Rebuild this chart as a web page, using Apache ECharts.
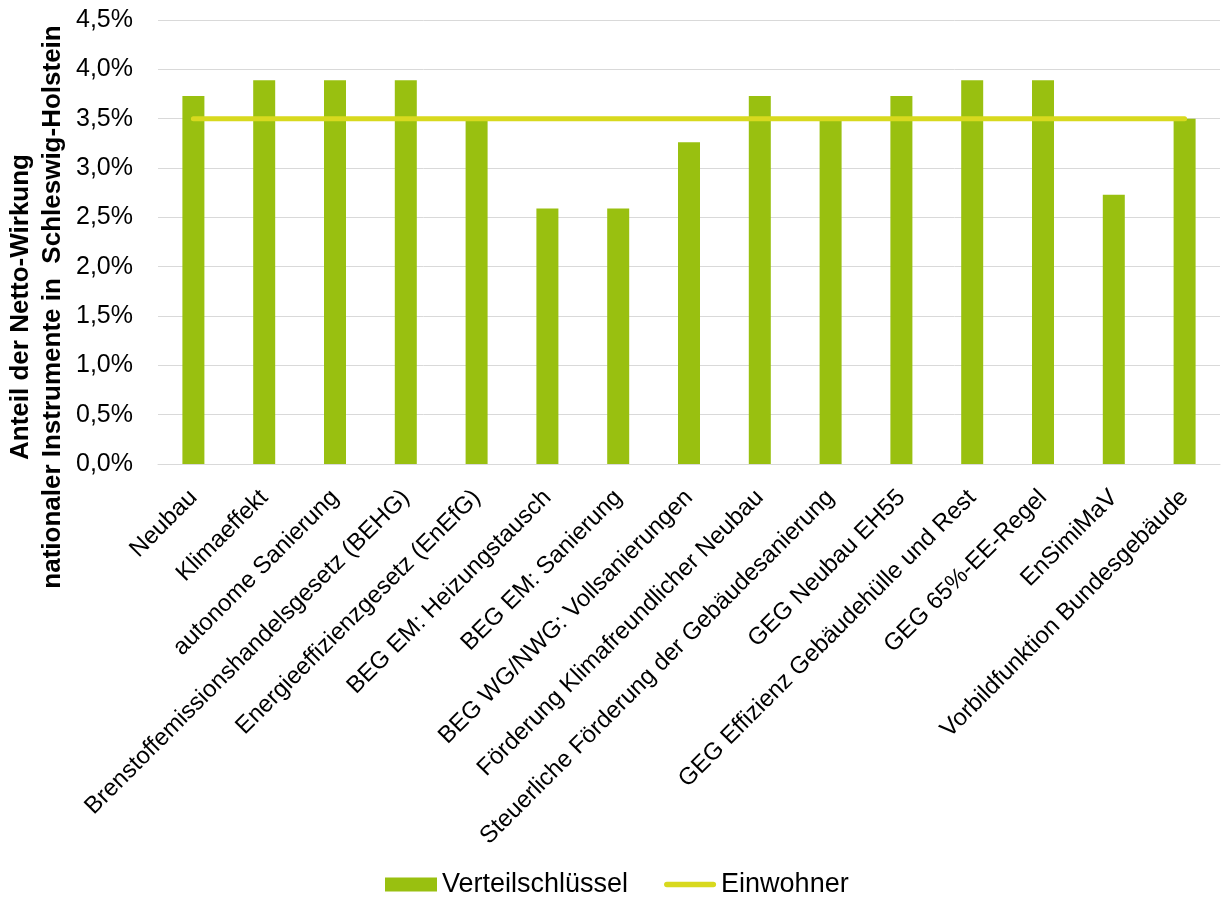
<!DOCTYPE html>
<html>
<head>
<meta charset="utf-8">
<title>Anteil der Netto-Wirkung nationaler Instrumente in Schleswig-Holstein</title>
<script src="https://cdn.jsdelivr.net/npm/echarts@6/dist/echarts.min.js"></script>
<style>
  html, body { margin: 0; padding: 0; background: #ffffff; }
  #chart { width: 1225px; height: 897px; }
</style>
</head>
<body>
<div id="chart"></div>
<script>
// Instrumente (x-axis categories)
const categories = [
  'Neubau',
  'Klimaeffekt',
  'autonome Sanierung',
  'Brenstoffemissionshandelsgesetz (BEHG)',
  'Energieeffizienzgesetz (EnEfG)',
  'BEG EM: Heizungstausch',
  'BEG EM: Sanierung',
  'BEG WG/NWG: Vollsanierungen',
  'Förderung Klimafreundlicher Neubau',
  'Steuerliche Förderung der Gebäudesanierung',
  'GEG Neubau EH55',
  'GEG Effizienz Gebäudehülle und Rest',
  'GEG 65%-EE-Regel',
  'EnSimiMaV',
  'Vorbildfunktion Bundesgebäude'
];

// Anteil in Prozent je Instrument
const verteilschluessel = [3.73, 3.89, 3.89, 3.89, 3.50, 2.59, 2.59, 3.26, 3.73, 3.50, 3.73, 3.89, 3.89, 2.73, 3.50];

// Bevölkerungsanteil Schleswig-Holstein in Prozent
const einwohner = [3.50, 3.50, 3.50, 3.50, 3.50, 3.50, 3.50, 3.50, 3.50, 3.50, 3.50, 3.50, 3.50, 3.50, 3.50];

// y-axis range and step (percent)
const yMin = 0;
const yMax = 4.5;
const yStep = 0.5;

const yTitle = 'Anteil der Netto-Wirkung\nnationaler Instrumente in  Schleswig-Holstein';

const FONT = '"Liberation Sans", Arial, sans-serif';
const BAR_COLOR = '#99C010';
const LINE_COLOR = '#D8D91E';

const chart = echarts.init(document.getElementById('chart'), null, { renderer: 'canvas' });

chart.setOption({
  backgroundColor: '#ffffff',
  animation: false,
  textStyle: { fontFamily: FONT, color: '#000000' },
  grid: {
    left: 158, right: 5, top: 20, bottom: 433,
    containLabel: false,
    outerBoundsMode: 'none'
  },
  legend: {
    top: 866,
    left: 380,
    itemWidth: 52,
    itemHeight: 14,
    itemGap: 36,
    textStyle: { fontFamily: FONT, fontSize: 27, color: '#000000' },
    data: [
      { name: 'Verteilschlüssel', icon: 'rect' },
      { name: 'Einwohner', icon: 'path://M3,0 H53 A3,3 0 0 1 53,6 H3 A3,3 0 0 1 3,0 Z' }
    ]
  },
  // rotated y-axis title, two lines
  graphic: [
    {
      type: 'text',
      x: 37,
      y: 307,
      rotation: Math.PI / 2,
      style: {
        text: yTitle,
        font: 'bold 26px "Liberation Sans", Arial, sans-serif',
        fill: '#000000',
        align: 'center',
        verticalAlign: 'middle',
        lineHeight: 32
      }
    }
  ],
  xAxis: {
    type: 'category',
    data: categories,
    boundaryGap: true,
    axisLine: { show: true, lineStyle: { color: '#D9D9D9', width: 1 } },
    axisTick: { show: false },
    axisLabel: {
      interval: 0,
      rotate: 45,
      margin: 30,
      fontFamily: FONT,
      fontSize: 24,
      color: '#000000'
    }
  },
  yAxis: {
    type: 'value',
    min: yMin,
    max: yMax,
    interval: yStep,
    axisLine: { show: false },
    axisTick: { show: false },
    splitLine: { show: true, lineStyle: { color: '#D9D9D9', width: 1 } },
    axisLabel: {
      margin: 25,
      fontFamily: FONT,
      fontSize: 25,
      color: '#000000',
      formatter: (v) => v.toFixed(1).replace('.', ',') + '%'
    }
  },
  series: [
    {
      name: 'Verteilschlüssel',
      type: 'bar',
      data: verteilschluessel,
      barWidth: 22,
      itemStyle: { color: BAR_COLOR },
      z: 2
    },
    {
      name: 'Einwohner',
      type: 'line',
      data: einwohner,
      symbol: 'none',
      showSymbol: false,
      lineStyle: { color: LINE_COLOR, width: 5, cap: 'round' },
      itemStyle: { color: LINE_COLOR },
      z: 3
    }
  ]
});
</script>
</body>
</html>
